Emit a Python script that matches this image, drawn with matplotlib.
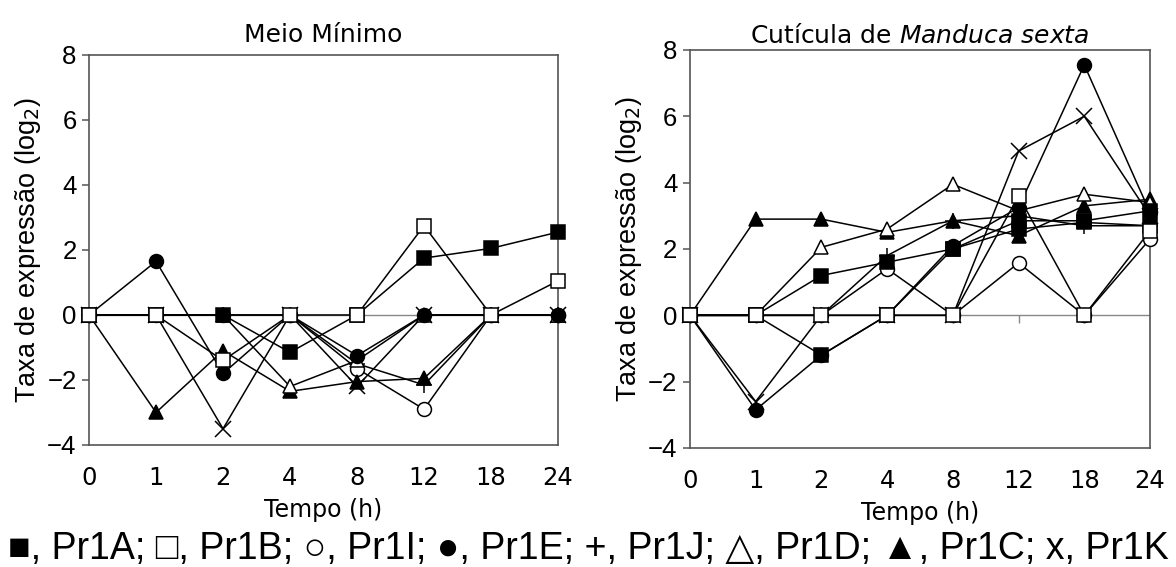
import matplotlib
matplotlib.use("Agg")
import matplotlib.pyplot as plt
import numpy as np

# time points (categorical axis)
tempo = ['0', '1', '2', '4', '8', '12', '18', '24']

# Meio Minimo
mm_pr1a = [0, 0, 0, -1.15, 0, 1.75, 2.05, 2.55]
mm_pr1b = [0, 0, -1.4, 0, 0, 2.75, 0, 1.05]
mm_pr1i = [0, 0, 0, 0, -1.65, -2.9, 0, 0]
mm_pr1e = [0, 1.65, -1.8, 0, -1.25, 0, 0, 0]
mm_pr1j = [0, 0, 0, 0, -1.5, -2.15, 0, 0]
mm_pr1d = [0, 0, 0, -2.2, -1.4, 0, 0, 0]
mm_pr1c = [0, -3.0, -1.1, -2.35, -2.05, -1.95, 0, 0]
mm_pr1k = [0, 0, -3.5, 0, -2.2, 0, 0, 0]

# Cuticula de Manduca sexta (two filled-square traces are visible)
ms_pr1a = [0, 0, 1.2, 1.6, 2.0, 2.85, 2.85, 3.15]
ms_pr1a_b = [0, 0, -1.2, 0, 2.0, 2.6, 2.8, 2.7]
ms_pr1b = [0, 0, 0, 0, 0, 3.6, 0, 2.55]
ms_pr1i = [0, 0, 0, 1.4, 0, 1.58, 0, 2.3]
ms_pr1e = [0, -2.85, -1.2, 0, 2.1, 3.25, 7.55, 3.1]
ms_pr1j = [0, 0, 0, 1.8, 2.85, 3.0, 2.7, 2.7]
ms_pr1d = [0, 0, 2.05, 2.6, 3.95, 3.15, 3.65, 3.4]
ms_pr1c = [0, 2.9, 2.9, 2.5, 2.85, 2.4, 3.3, 3.5]
ms_pr1k = [0, -2.6, 0, 0, 0, 4.95, 6.0, 3.0]

genes = ['Pr1A', 'Pr1B', 'Pr1I', 'Pr1E', 'Pr1J', 'Pr1D', 'Pr1C', 'Pr1K']
legend_symbols = ['\u25A0', '\u25A1', '\u25CB', '\u25CF', '+', '\u25B3', '\u25B2', 'x']

# marker style per gene: (marker, facecolor)
styles = {
    'Pr1A': ('s', 'black'),
    'Pr1B': ('s', 'white'),
    'Pr1I': ('o', 'white'),
    'Pr1E': ('o', 'black'),
    'Pr1J': ('+', 'black'),
    'Pr1D': ('^', 'white'),
    'Pr1C': ('^', 'black'),
    'Pr1K': ('x', 'black'),
}

left_series = [('Pr1J', mm_pr1j), ('Pr1K', mm_pr1k), ('Pr1I', mm_pr1i), ('Pr1C', mm_pr1c),
               ('Pr1D', mm_pr1d), ('Pr1E', mm_pr1e), ('Pr1A', mm_pr1a), ('Pr1B', mm_pr1b)]
right_series = [('Pr1J', ms_pr1j), ('Pr1K', ms_pr1k), ('Pr1I', ms_pr1i), ('Pr1C', ms_pr1c),
                ('Pr1D', ms_pr1d), ('Pr1E', ms_pr1e), ('Pr1A', ms_pr1a_b), ('Pr1A', ms_pr1a),
                ('Pr1B', ms_pr1b)]

fig = plt.figure(figsize=(11.76, 5.67), dpi=100)
ax1 = fig.add_axes([0.0757, 0.2152, 0.3988, 0.6878])
ax2 = fig.add_axes([0.5867, 0.2099, 0.3912, 0.7020])

xpos = np.arange(len(tempo))
spine_col = '#555555'

def draw_panel(ax, series):
    ax.axhline(0, color='#888888', lw=1.0, zorder=1)
    ax.vlines(xpos, -0.22, 0, color='#888888', lw=1.0, zorder=1)
    for name, vals in series:
        m, fc = styles[name]
        ms = 10 if m in ('s', 'o', '^') else 11
        ax.plot(xpos, vals, color='black', lw=1.1, marker=m, markersize=ms,
                markerfacecolor=fc, markeredgecolor='black', markeredgewidth=1.1,
                clip_on=False, zorder=3)
    ax.set_xlim(0, len(tempo) - 1)
    ax.set_ylim(-4, 8)
    ax.set_yticks([-4, -2, 0, 2, 4, 6, 8])
    ax.set_yticklabels(['\u22124', '\u22122', '0', '2', '4', '6', '8'],
                       fontfamily='Liberation Sans', fontsize=18.5)
    ax.set_xticks(xpos)
    ax.set_xticklabels(tempo, fontsize=17.5)
    ax.tick_params(axis='x', length=0, pad=15)
    ax.tick_params(axis='y', length=5, width=1.1, color=spine_col, pad=4)
    for s in ax.spines.values():
        s.set_color(spine_col)
        s.set_linewidth(1.2)
    ax.set_xlabel('Tempo (h)', fontsize=17, labelpad=6)
    ax.set_ylabel('Taxa de expressão (log$_2$)', fontfamily='Liberation Sans',
                  fontsize=19.5, labelpad=3)

draw_panel(ax1, left_series)
draw_panel(ax2, right_series)

ax1.set_title('Meio Mínimo', fontsize=18, pad=9)
ax2.set_title('Cutícula de $\\it{Manduca\\ sexta}$', fontsize=18, pad=5)

legend_text = '; '.join(f'{s}, {g}' for s, g in zip(legend_symbols, genes))
fig.text(0.5, 0.032, legend_text, ha='center', va='center', fontsize=27,
         family=['Liberation Sans', 'DejaVu Sans'])

fig.savefig('out.png', dpi=100)
